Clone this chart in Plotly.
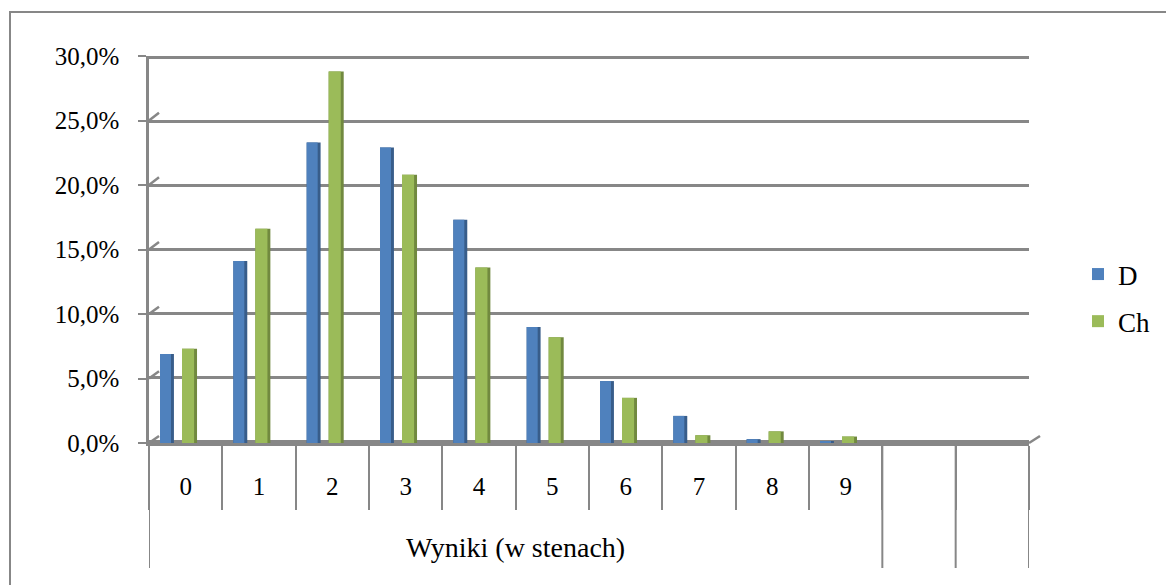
import plotly.graph_objects as go

# ---- data ----
categories = ["0", "1", "2", "3", "4", "5", "6", "7", "8", "9", "", ""]
group_label = "Wyniki (w stenach)"
series_names = ["D", "Ch"]
d_values = [6.9, 14.1, 23.3, 22.9, 17.3, 9.0, 4.8, 2.1, 0.3, 0.1, None, None]
ch_values = [7.3, 16.6, 28.8, 20.8, 13.6, 8.2, 3.5, 0.6, 0.9, 0.5, None, None]
y_tick_values = [0, 5, 10, 15, 20, 25, 30]
y_tick_labels = ["0,0%", "5,0%", "10,0%", "15,0%", "20,0%", "25,0%", "30,0%"]

# ---- geometry (pixels) ----
W, H = 1166, 585
FONT = "Liberation Serif"
GRAY = "#878787"
L, R_EDGE = 149, 1040          # plot area left/right
FRONT_R = 1029                 # front x axis right end
TOP, BOTTOM = 46, 443          # plot area top / front zero line
FRONT_TOP = 56                 # front axis 30% position
BACK_ZERO, BACK_TOP = 436, 48  # back wall 0% / 30% positions
DX = 10                        # depth offset in x
PADPX = 2                      # extra room so edge gridlines are drawn
pw = R_EDGE - L
ph = BOTTOM - TOP

n = len(categories)
xpos = list(range(n))
labelled = [i for i, c in enumerate(categories) if c != ""]
ymax = y_tick_values[-1]

fig = go.Figure()

# 3D look: darker side face drawn behind, lighter front face on top
bar_specs = [
    (series_names[0], d_values, "#385D8A", "#4F81BD", -0.35, 0.19, 0.15),
    (series_names[1], ch_values, "#71893F", "#9BBB59", -0.05, 0.205, 0.165),
]
for name, vals, dark, light, off, wfull, wfront in bar_specs:
    fig.add_trace(go.Bar(x=xpos, y=vals, offset=off, width=wfull,
                         marker=dict(color=dark, line=dict(width=0)),
                         showlegend=False, hoverinfo="skip"))
    fig.add_trace(go.Bar(x=xpos, y=vals, offset=off, width=wfront, name=name,
                         marker=dict(color=light, line=dict(width=0)),
                         legendgroup=name))

# empty trace to create back-wall subplot
fig.add_trace(go.Scatter(x=[], y=[], xaxis="x2", yaxis="y2", showlegend=False))

scale_front = (BOTTOM - FRONT_TOP) / ymax
scale_back = (BACK_ZERO - BACK_TOP) / ymax
pad_units = PADPX / scale_back

shapes = []
# diagonal stubs at left of each gridline (front tick -> back wall)
for v in y_tick_values:
    front_px = BOTTOM - v * scale_front
    back_px = BACK_ZERO - v * scale_back
    shapes.append(dict(type="line", xref="paper", yref="y",
                       x0=0, x1=DX / pw, y0=v, y1=v + (front_px - back_px) / scale_front,
                       line=dict(color=GRAY, width=2.5)))
# right diagonal floor edge
shapes.append(dict(type="line", xref="paper", yref="paper",
                   x0=(FRONT_R - L) / pw, y0=0, x1=1, y1=(BOTTOM - BACK_ZERO) / ph,
                   line=dict(color=GRAY, width=2.5)))
# long group dividers
group_bounds = [-0.5, labelled[-1] + 0.5] + [i + 0.5 for i in range(labelled[-1] + 1, n)]
for b in group_bounds:
    shapes.append(dict(type="line", xref="x", yref="paper", x0=b, x1=b,
                       y0=0, y1=(BOTTOM - 568) / ph, line=dict(color=GRAY, width=2)))
# outer chart border (clipped at right/bottom like the reference)
shapes.append(dict(type="rect", xref="paper", yref="paper",
                   x0=(10 - L) / pw, x1=2.5, y0=-2.5, y1=(BOTTOM - 12) / ph,
                   line=dict(color=GRAY, width=2), fillcolor="rgba(0,0,0,0)", layer="below"))

fig.update_layout(
    width=W, height=H,
    margin=dict(l=L, r=W - R_EDGE, t=TOP, b=H - BOTTOM, pad=0, autoexpand=False),
    paper_bgcolor="white", plot_bgcolor="rgba(0,0,0,0)",
    barmode="overlay",
    font=dict(family=FONT, size=25, color="black"),
    xaxis=dict(domain=[0, (FRONT_R - L) / pw], range=[-0.5, n - 0.5],
               showgrid=False, zeroline=False, showline=True, linecolor=GRAY, linewidth=2.5,
               tickmode="array", tickvals=labelled, ticktext=[categories[i] for i in labelled],
               ticks="", ticklabelstandoff=19,
               minor=dict(tickmode="array", tickvals=[i - 0.5 for i in range(n + 1)],
                          ticks="outside", ticklen=64, tickcolor=GRAY, tickwidth=2),
               tickfont=dict(size=25, family=FONT), fixedrange=True, automargin=False),
    yaxis=dict(domain=[0, (BOTTOM - FRONT_TOP) / ph], range=[0, ymax],
               showgrid=False, zeroline=False, showline=True, linecolor=GRAY, linewidth=2.5,
               tickmode="array", tickvals=y_tick_values, ticktext=y_tick_labels,
               ticks="outside", ticklen=8, tickcolor=GRAY, tickwidth=2,
               ticklabelstandoff=14, tickfont=dict(size=25, family=FONT), fixedrange=True,
               automargin=False),
    xaxis2=dict(domain=[DX / pw, 1], range=[-0.5, n - 0.5], anchor="y2", overlaying="x",
                showgrid=False, zeroline=False, showline=False, showticklabels=False, ticks="",
                fixedrange=True),
    yaxis2=dict(domain=[(BOTTOM - BACK_ZERO - PADPX) / ph, 1],
                range=[-pad_units, ymax + pad_units], anchor="x2", overlaying="y",
                showgrid=True, gridcolor=GRAY, gridwidth=2.5, zeroline=False, showline=False,
                tickmode="array", tickvals=y_tick_values, showticklabels=False, ticks="",
                fixedrange=True),
    legend=dict(x=(1078 - L) / pw, xanchor="left", y=(BOTTOM - 250) / ph, yanchor="top",
                font=dict(size=27, family=FONT), tracegroupgap=9,
                bgcolor="rgba(0,0,0,0)"),
    shapes=shapes,
    annotations=[dict(text=group_label, xref="x", yref="paper",
                      x=(labelled[0] + labelled[-1]) / 2, y=(BOTTOM - 547) / ph,
                      showarrow=False, xanchor="center", yanchor="middle",
                      font=dict(size=28, family=FONT))],
)

fig.write_html("out.html", config={"displayModeBar": False},
               post_script="document.body.style.margin='0';")
